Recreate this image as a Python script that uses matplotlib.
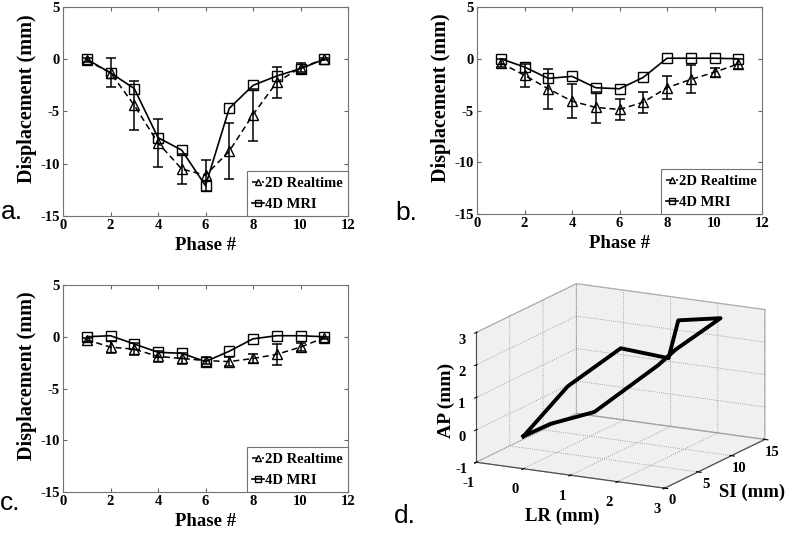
import numpy as np
import matplotlib
matplotlib.use("Agg")
import matplotlib.pyplot as plt

plt.rcParams['font.family'] = ['Liberation Serif', 'DejaVu Serif']
plt.rcParams['font.weight'] = 'bold'
plt.rcParams['axes.labelweight'] = 'bold'
plt.rcParams['axes.unicode_minus'] = False
plt.rcParams['grid.linestyle'] = ':'
plt.rcParams['grid.color'] = '0.55'
plt.rcParams['grid.linewidth'] = 0.6

# phase numbers
phase = [1, 2, 3, 4, 5, 6, 7, 8, 9, 10, 11]

# panel a
a_rt = [-0.1, -1.3, -4.4, -8.0, -10.5, -11.1, -8.8, -5.3, -2.2, -0.8, 0.0]
a_rt_sd = [0.2, 1.4, 2.35, 2.3, 1.4, 1.5, 2.7, 2.5, 1.5, 0.45, 0.1]
a_mri = [0.0, -1.3, -2.8, -7.5, -8.7, -12.1, -4.7, -2.5, -1.6, -0.9, 0.0]

# panel b
b_rt = [-0.4, -1.6, -2.9, -4.1, -4.7, -4.9, -4.2, -2.8, -2.0, -1.3, -0.5]
b_rt_sd = [0.4, 1.1, 1.95, 1.65, 1.5, 1.05, 1.0, 1.1, 1.35, 0.45, 0.45]
b_mri = [0.0, -0.8, -1.9, -1.7, -2.8, -2.9, -1.8, 0.05, 0.05, 0.05, 0.0]

# panel c
c_rt = [-0.3, -1.0, -1.2, -1.9, -2.1, -2.3, -2.4, -2.1, -1.7, -1.0, -0.1]
c_rt_sd = [0.2, 0.6, 0.6, 0.5, 0.5, 0.3, 0.4, 0.45, 1.0, 0.35, 0.1]
c_mri = [0.0, 0.1, -0.7, -1.5, -1.6, -2.4, -1.4, -0.2, 0.1, 0.1, 0.0]

# panel d trajectory
lr = [0.0, 0.39, 1.11, 1.8, 2.0, 2.47, 1.9, 2.23, 1.5, 0.8, 0.0]
si = [0.0, 1.3, 2.8, 7.5, 8.7, 12.1, 9.8, 6.0, 4.0, 1.0, 0.0]
ap = [0.0, 0.33, 0.69, 1.8, 2.2, 2.92, 2.97, 2.25, 2.61, 1.6, 0.0]

W, H = 788, 541
fig = plt.figure(figsize=(W / 100, H / 100), dpi=100)


def rect(x0, y0, x1, y1):
    # pixel box -> figure fraction
    return [x0 / W, 1 - y1 / H, (x1 - x0) / W, (y1 - y0) / H]


def disp_panel(r, rt, rt_sd, mri, letter, lpos):
    ax = fig.add_axes(r)
    ax.errorbar(phase, rt, yerr=rt_sd, fmt='none', ecolor='k',
                elinewidth=1.1, capsize=3.5, capthick=1.1)
    l1, = ax.plot(phase, rt, 'k--', marker='^', mfc='none', mec='k',
                  ms=7.5, lw=1.1, dashes=(4, 2.5))
    l2, = ax.plot(phase, mri, 'k-', marker='s', mfc='none', mec='k',
                  ms=6.5, lw=1.2)
    ax.set_xlim(0, 12)
    ax.set_ylim(-15, 5)
    ax.set_xticks([0, 2, 4, 6, 8, 10, 12])
    ax.set_yticks([-15, -10, -5, 0, 5])
    ax.tick_params(direction='in', length=3, width=0.8, labelsize=10.5,
                   top=True, right=True, color='0.4', pad=2.5)
    for s in ax.spines.values():
        s.set_color('0.45')
        s.set_linewidth(0.8)
    ax.set_xlabel('Phase #', fontsize=13.5, labelpad=3)
    ax.set_ylabel('Displacement (mm)', fontsize=14.5)
    ax.yaxis.set_label_coords(-0.092, 0.56)
    leg = ax.legend([l1, l2], ['2D Realtime', '4D MRI'], loc='lower right',
                    fontsize=10.5, handlelength=0.8, handletextpad=0.1,
                    markerscale=0.6, borderpad=0.35, labelspacing=0.55,
                    borderaxespad=0.0, fancybox=False, framealpha=1)
    leg.get_frame().set_edgecolor('0.45')
    leg.get_frame().set_linewidth(0.8)
    fig.text(lpos[0] / W, 1 - lpos[1] / H, letter, family='Liberation Sans',
             weight='normal', fontsize=19, va='baseline', ha='left')
    return ax


disp_panel(rect(63, 7, 348, 216), a_rt, a_rt_sd, a_mri, 'a.', (1, 219))
disp_panel(rect(477, 7, 762, 214), b_rt, b_rt_sd, b_mri, 'b.', (395, 220))
disp_panel(rect(63, 285, 348, 492), c_rt, c_rt_sd, c_mri, 'c.', (0, 510))

# panel d: 3D trajectory
ax3 = fig.add_axes(rect(437, 257, 797, 522), projection='3d', proj_type='ortho')
ax3.plot(lr, si, ap, 'k-', lw=2.8)
ax3.set_xlim(-1, 3)
ax3.set_ylim(0, 15)
ax3.set_zlim(-1, 3)
ax3.set_xticks([-1, 0, 1, 2, 3])
ax3.set_yticks([0, 5, 10, 15])
ax3.set_zticks([-1, 0, 1, 2, 3])
ax3.set_box_aspect((1, 1, 0.63), zoom=1.21)
ax3.view_init(elev=15, azim=-62)
for axis in (ax3.xaxis, ax3.yaxis, ax3.zaxis):
    axis.set_pane_color((0.94, 0.94, 0.94, 1.0))
    axis.pane.set_edgecolor('0.75')
    axis.line.set_color('0.3')
    axis.line.set_linewidth(0.8)
ax3.zaxis.set_ticks_position('lower')
ax3.tick_params(labelsize=10.5)
ax3.xaxis.set_tick_params(pad=0)
ax3.yaxis.set_tick_params(pad=-4)
ax3.zaxis.set_tick_params(pad=-3)
ax3.set_xlabel('')
ax3.set_ylabel('')
ax3.set_zlabel('')
fig.text(562 / W, 1 - 516 / H, 'LR (mm)', fontsize=13.5, ha='center', va='center')
fig.text(752 / W, 1 - 492 / H, 'SI (mm)', fontsize=13.5, ha='center', va='center')
fig.text(446 / W, 1 - 400 / H, 'AP (mm)', fontsize=14, ha='center', va='center',
         rotation=90)
fig.text(394 / W, 1 - 523 / H, 'd.', family='Liberation Sans', weight='normal',
         fontsize=19, va='baseline', ha='left')

fig.savefig('out.png', dpi=100)
